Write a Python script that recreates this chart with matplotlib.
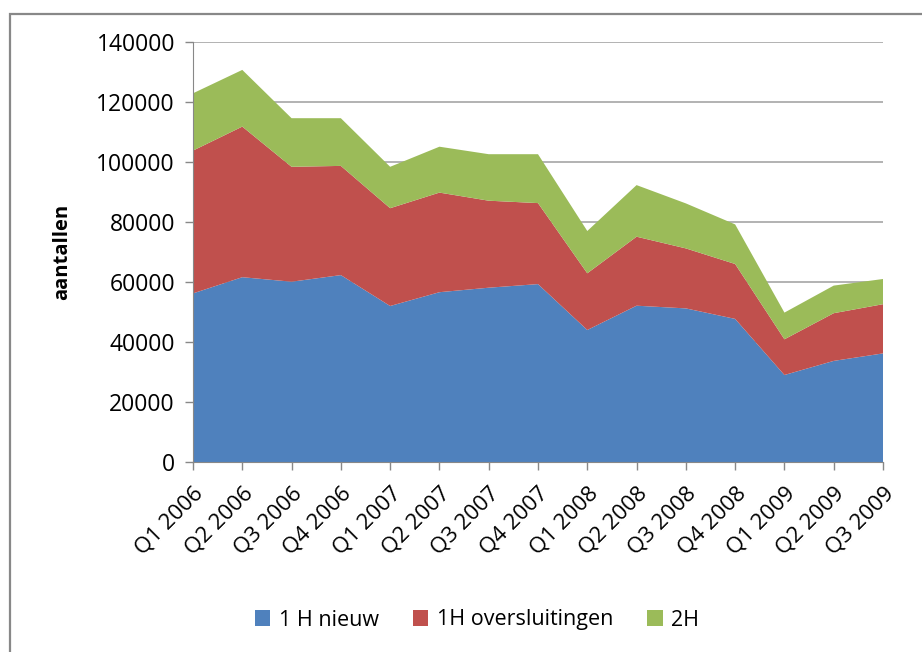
import matplotlib
matplotlib.use("Agg")
import matplotlib.pyplot as plt
from matplotlib.patches import Rectangle, Patch
import numpy as np

categories = ["Q1 2006", "Q2 2006", "Q3 2006", "Q4 2006", "Q1 2007", "Q2 2007",
              "Q3 2007", "Q4 2007", "Q1 2008", "Q2 2008", "Q3 2008", "Q4 2008",
              "Q1 2009", "Q2 2009", "Q3 2009"]
nieuw = [56200, 61600, 60100, 62300, 52000, 56600, 58100, 59300, 44000, 52100,
         51200, 47700, 29000, 33700, 36200]
oversluitingen = [47600, 50200, 38300, 36400, 32600, 33200, 29000, 27000, 18900,
                  23000, 20000, 18300, 11900, 15900, 16400]
twee_h = [19100, 18900, 16200, 15900, 13800, 15300, 15500, 16300, 14100, 17200,
          15000, 13200, 8900, 9200, 8400]
series_names = ["1 H nieuw", "1H oversluitingen", "2H"]
colors = ["#4F81BD", "#C0504D", "#9BBB59"]
y_ticks = [0, 20000, 40000, 60000, 80000, 100000, 120000, 140000]

plt.rcParams['font.family'] = ['Open Sans', 'DejaVu Sans']

W, H = 922, 652
fig = plt.figure(figsize=(W / 100, H / 100), dpi=100)
fig.patch.set_facecolor("white")

# outer frame (top & left visible)
fig.patches.append(Rectangle((9.5 / W, -0.1), 1.2, (H - 13.5) / H + 0.1,
                             transform=fig.transFigure, fill=False,
                             edgecolor="#888888", linewidth=1.6))

ax = fig.add_axes([193 / W, (H - 462) / H, 690 / W, 420 / H])
x = np.arange(len(categories))
ax.stackplot(x, nieuw, oversluitingen, twee_h, colors=colors,
             labels=series_names, edgecolor="none", linewidth=0, zorder=2)

ax.set_xlim(0, len(categories) - 1)
ax.set_ylim(0, 140000)
ax.set_yticks(y_ticks)
ax.set_yticklabels([str(v) for v in y_ticks], fontsize=16.5)
ax.set_xticks(x)
ax.set_xticklabels(categories, rotation=45, ha="right", rotation_mode="anchor",
                   fontsize=16)
ax.tick_params(axis="both", colors="#888888", labelcolor="black", length=6,
               width=1)
ax.tick_params(axis="y", pad=7)
ax.tick_params(axis="x", pad=9)
ax.grid(axis="y", color="#a6a6a6", linewidth=1.2, zorder=1)
ax.set_axisbelow(True)
for s in ["top", "right"]:
    ax.spines[s].set_visible(False)
for s in ["left", "bottom"]:
    ax.spines[s].set_color("#888888")
    ax.spines[s].set_zorder(3)

fig.text(62 / W, 1 - 252 / H, "aantallen", rotation=90, fontsize=14.5,
         fontweight="bold", ha="center", va="center")

handles = [Patch(facecolor=c, edgecolor="none") for c in colors]
fig.legend(handles, series_names, loc="center", ncol=3,
           bbox_to_anchor=(477 / W, 1 - 620 / H), frameon=False, fontsize=15.5,
           handlelength=0.7, handleheight=0.7, handletextpad=0.4,
           columnspacing=1.6)

fig.savefig("out.png", dpi=100)
